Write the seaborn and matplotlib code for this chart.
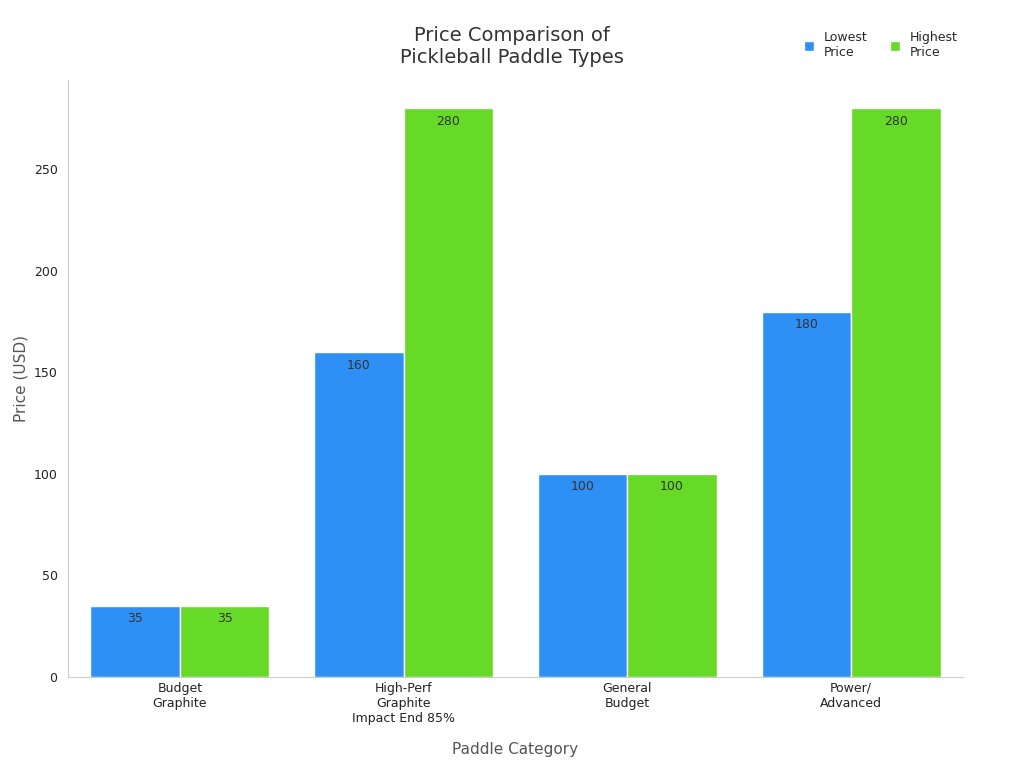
import matplotlib
matplotlib.use("Agg")
import matplotlib.pyplot as plt
import seaborn as sns
import pandas as pd

categories = ["Budget\nGraphite", "High-Perf\nGraphite\nImpact End 85%", "General\nBudget", "Power/\nAdvanced"]
lowest = [35, 160, 100, 180]
highest = [35, 280, 100, 280]
series = ["Lowest\nPrice", "Highest\nPrice"]
colors = ["#2E90F5", "#66DA26"]

df = pd.DataFrame({
    "cat": categories * 2,
    "val": lowest + highest,
    "series": [series[0]] * 4 + [series[1]] * 4,
})

sns.set_style("white")
fig = plt.figure(figsize=(10.24, 7.68), dpi=100)
ax = fig.add_axes([0.0664, 0.1185, 0.874, 0.7773])
sns.barplot(data=df, x="cat", y="val", hue="series", palette=colors, ax=ax,
            width=0.8, saturation=1, edgecolor="white", linewidth=1, legend=True)
for c in ax.containers:
    ax.bar_label(c, labels=[f"{v:.0f}" for v in c.datavalues], padding=-14,
                 color="#333333", fontsize=9)
ax.set_xlim(-0.5, 3.5)
ax.set_ylim(0, 294)
ax.set_yticks([0, 50, 100, 150, 200, 250])
ax.tick_params(axis="both", labelsize=9, colors="#222222", length=4)
ax.tick_params(axis="x", length=0)
for s in ["top", "right"]:
    ax.spines[s].set_visible(False)
for s in ["left", "bottom"]:
    ax.spines[s].set_color("#cccccc")
ax.set_xlabel("Paddle Category", fontsize=11, color="#555555", labelpad=12)
ax.set_ylabel("Price (USD)", fontsize=11, color="#555555")
fig.text(0.5, 0.94, "Price Comparison of\nPickleball Paddle Types", ha="center",
         va="center", fontsize=14, color="#333333")
h, l = ax.get_legend_handles_labels()
ax.legend(h, l, loc="center", bbox_to_anchor=(0.86, 0.941), bbox_transform=fig.transFigure,
          ncol=2, frameon=False, fontsize=9, handlelength=0.8, handleheight=0.8,
          columnspacing=1.8)
fig.savefig("out.png", dpi=100)
